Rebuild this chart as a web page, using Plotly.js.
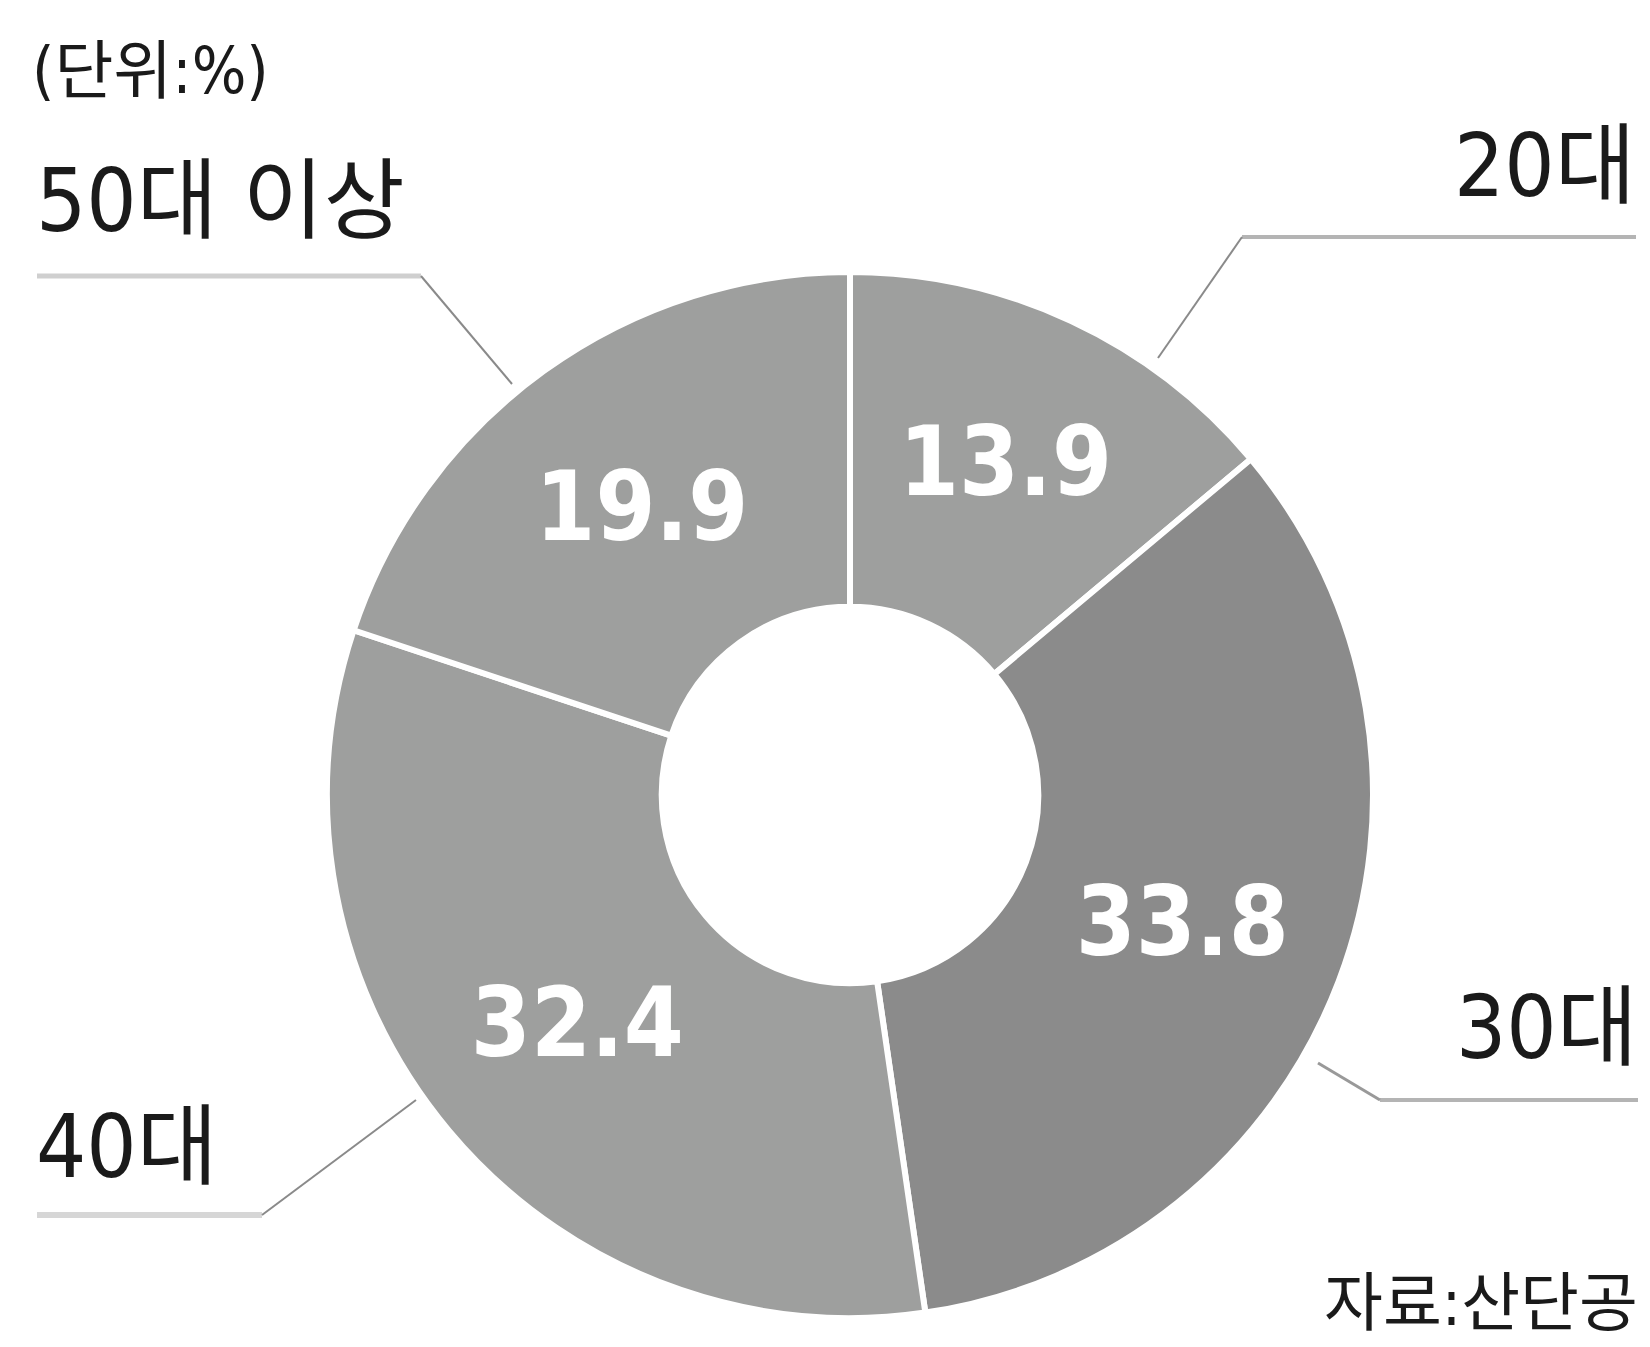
<!DOCTYPE html>
<html>
<head>
<meta charset="utf-8">
<script src="https://cdn.plot.ly/plotly-3.0.1.min.js"></script>
<style>html,body{margin:0;padding:0;background:#fff;}#chart{width:1650px;height:1347px;}</style>
</head>
<body>
<div id="chart"></div>
<script>
// Data
const categories = ["20대", "30대", "40대", "50대 이상"];
const values = [13.9, 33.8, 32.4, 19.9];
const sliceColors = ["#9e9f9e", "#8b8b8b", "#9e9f9e", "#9e9f9e"];
const unitText = "(단위:%)";
const sourceText = "자료:산단공";

const W = 1650, H = 1347;
const px = x => x / W;
const py = y => 1 - y / H;

const labelFont = "Liberation Sans Narrow, DejaVu Sans Condensed, Noto Sans CJK KR, sans-serif";

const trace = {
  type: "pie",
  labels: categories,
  values: values,
  sort: false,
  direction: "clockwise",
  rotation: 0,
  hole: 0.36,
  marker: {colors: sliceColors, line: {color: "#ffffff", width: 6}},
  textinfo: "value",
  texttemplate: "%{value:.1f}",
  textposition: "inside",
  insidetextorientation: "horizontal",
  insidetextfont: {family: labelFont, size: 96, color: "#ffffff", weight: "bold"},
  showlegend: false,
  hoverinfo: "label+value",
  domain: {x: [px(850 - 523), px(850 + 523)], y: [1 - (795 + 523) / H, 1 - (795 - 523) / H]}
};

// label placements (decoration)
const labelSpec = [
  {x: 1638, y: 166, anchor: "right"},
  {x: 1640, y: 1027, anchor: "right"},
  {x: 34, y: 1146, anchor: "left"},
  {x: 34, y: 200, anchor: "left"}
];
const annotations = categories.map((c, i) => ({
  xref: "paper", yref: "paper",
  x: px(labelSpec[i].x), y: py(labelSpec[i].y),
  xanchor: labelSpec[i].anchor, yanchor: "middle",
  text: c, showarrow: false,
  font: {family: labelFont, size: 88, color: "#1a1a1a"}
}));
annotations.push({
  xref: "paper", yref: "paper", x: px(30), y: py(71), xanchor: "left", yanchor: "middle",
  text: unitText, showarrow: false, font: {family: labelFont, size: 64, color: "#1a1a1a"}
});
annotations.push({
  xref: "paper", yref: "paper", x: px(1640), y: py(1303), xanchor: "right", yanchor: "middle",
  text: sourceText, showarrow: false, font: {family: labelFont, size: 64, color: "#1a1a1a"}
});

const leaderColor = "#a8a8a8";
const seg = (x0, y0, x1, y1, c, w) => ({type: "line", xref: "paper", yref: "paper",
  x0: px(x0), y0: py(y0), x1: px(x1), y1: py(y1), line: {color: c || leaderColor, width: w || 3}});
const shapes = [
  // 20대
  seg(1242, 237, 1636, 237, "#b4b4b4", 4), seg(1242, 237, 1158, 358, "#8a8a8a", 2),
  // 30대
  seg(1380, 1100, 1638, 1100, "#b4b4b4", 4), seg(1380, 1100, 1318, 1063, "#999999", 3),
  // 40대
  seg(37, 1215, 262, 1215, "#d6d6d6", 6), seg(262, 1215, 416, 1100, "#8a8a8a", 2),
  // 50대 이상
  seg(37, 276, 421, 276, "#cfcfcf", 5), seg(421, 276, 512, 384, "#8a8a8a", 2)
];

const layout = {
  width: W, height: H,
  margin: {l: 0, r: 0, t: 0, b: 0},
  paper_bgcolor: "#ffffff", plot_bgcolor: "#ffffff",
  annotations: annotations,
  shapes: shapes
};

Plotly.newPlot("chart", [trace], layout, {staticPlot: true, displayModeBar: false});
</script>
</body>
</html>
